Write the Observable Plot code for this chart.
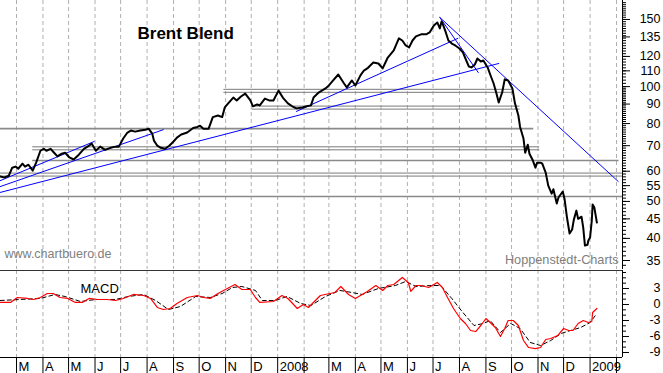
<!DOCTYPE html>
<html><head><meta charset="utf-8">
<script src="https://cdn.jsdelivr.net/npm/d3@7"></script>
<script src="https://cdn.jsdelivr.net/npm/@observablehq/plot@0.6"></script>
<style>
body{margin:0;background:#fff;}
#wrap{position:relative;width:663px;height:373px;overflow:hidden;background:#fff;}
#top,#bot{position:absolute;left:0;}
#top{top:0;} #bot{top:269px;}
</style></head><body><div id="wrap"><div id="top"></div><div id="bot"></div></div>
<script>
// ---------- data ----------
const priceDates = ["2007-02-10","2007-02-15","2007-02-20","2007-02-24","2007-02-28","2007-03-03","2007-03-08","2007-03-11","2007-03-15","2007-03-20",
"2007-03-24","2007-03-29","2007-04-02","2007-04-05","2007-04-10","2007-04-13","2007-04-18","2007-04-23","2007-04-27","2007-05-02",
"2007-05-07","2007-05-13","2007-05-19","2007-05-25","2007-05-28","2007-06-02","2007-06-07","2007-06-13","2007-06-19","2007-06-25",
"2007-06-29","2007-07-04","2007-07-09","2007-07-13","2007-07-18","2007-07-24","2007-07-30","2007-08-03","2007-08-07","2007-08-09",
"2007-08-13","2007-08-17","2007-08-22","2007-08-27","2007-09-01","2007-09-05","2007-09-10","2007-09-17","2007-09-24","2007-09-29",
"2007-10-02","2007-10-06","2007-10-12","2007-10-17","2007-10-23","2007-10-28","2007-10-31","2007-11-04","2007-11-10","2007-11-14",
"2007-11-19","2007-11-24","2007-11-30","2007-12-03","2007-12-08","2007-12-11","2007-12-17","2007-12-22","2007-12-27","2008-01-02",
"2008-01-07","2008-01-13","2008-01-18","2008-01-23","2008-01-30","2008-02-04","2008-02-09","2008-02-12","2008-02-18","2008-02-26",
"2008-03-01","2008-03-06","2008-03-12","2008-03-18","2008-03-22","2008-03-28","2008-04-01","2008-04-07","2008-04-11","2008-04-15",
"2008-04-22","2008-04-28","2008-05-03","2008-05-09","2008-05-16","2008-05-22","2008-05-26","2008-05-30","2008-06-03","2008-06-07",
"2008-06-11","2008-06-17","2008-06-23","2008-06-27","2008-07-02","2008-07-06","2008-07-09","2008-07-11","2008-07-13","2008-07-16",
"2008-07-19","2008-07-23","2008-07-27","2008-08-01","2008-08-05","2008-08-08","2008-08-12","2008-08-15","2008-08-19","2008-08-22",
"2008-08-26","2008-08-29","2008-09-03","2008-09-06","2008-09-10","2008-09-13","2008-09-16","2008-09-20","2008-09-23","2008-09-27",
"2008-10-02","2008-10-05","2008-10-09","2008-10-11","2008-10-15","2008-10-17","2008-10-20","2008-10-22","2008-10-26","2008-10-29",
"2008-10-31","2008-11-04","2008-11-06","2008-11-10","2008-11-13","2008-11-17","2008-11-19","2008-11-23","2008-11-25","2008-11-30",
"2008-12-02","2008-12-05","2008-12-08","2008-12-11","2008-12-13","2008-12-16","2008-12-18","2008-12-22","2008-12-24","2008-12-26",
"2008-12-29","2008-12-30","2009-01-01","2009-01-03","2009-01-04","2009-01-06","2009-01-09"];
const priceValues = [58.1,57.8,58.4,61.3,61.7,60.9,62.8,61.7,62.4,60.2,
63.2,67.9,68.7,67.9,68.7,67.5,65.6,66.7,67.1,65.2,
64.4,66.3,68.7,70.0,70.9,67.9,69.6,68.3,69.1,69.6,
69.6,73.1,75.8,76.7,76.2,76.7,77.1,77.5,75.3,72.2,
70.0,69.1,68.7,70.0,71.8,73.5,74.9,75.8,77.9,78.4,
79.0,77.5,77.5,83.2,84.0,83.2,88.2,90.4,93.6,92.0,
94.2,95.9,92.0,88.8,89.8,89.3,93.0,92.0,92.0,97.6,
93.6,90.4,88.8,87.7,88.2,88.8,89.3,93.6,96.5,98.9,
100.7,103.8,107.6,102.5,99.5,103.8,100.7,107.0,110.2,111.6,
115.7,115.0,111.6,119.2,124.4,133.8,132.1,128.2,126.7,132.1,
135.4,137.1,137.1,138.7,144.7,147.3,142.1,148.2,144.7,138.7,
132.1,129.7,128.2,125.9,122.9,118.5,112.9,112.3,114.3,118.5,
116.4,117.1,112.3,107.6,101.9,96.5,90.9,96.5,104.5,103.8,
98.9,90.4,84.0,78.4,73.1,67.1,70.4,66.7,64.0,61.3,
63.2,63.2,62.8,59.5,55.0,52.4,53.8,49.4,51.2,53.1,
50.9,45.3,41.2,42.2,44.8,47.3,45.0,45.6,42.7,38.3,
38.5,39.5,40.2,44.5,49.1,48.2,44.0];

const macdDates = ["2007-02-10","2007-02-22","2007-03-02","2007-03-14","2007-03-21","2007-03-29","2007-04-06","2007-04-13","2007-04-21","2007-04-30",
"2007-05-09","2007-05-17","2007-05-25","2007-06-04","2007-06-15","2007-06-25","2007-07-04","2007-07-16","2007-07-28","2007-08-05",
"2007-08-13","2007-08-20","2007-08-28","2007-09-05","2007-09-17","2007-09-29","2007-10-06","2007-10-14","2007-10-23","2007-11-03",
"2007-11-12","2007-11-20","2007-11-30","2007-12-06","2007-12-11","2007-12-27","2008-01-06","2008-01-13","2008-01-24","2008-01-31",
"2008-02-06","2008-02-20","2008-03-02","2008-03-08","2008-03-15","2008-03-24","2008-04-01","2008-04-15","2008-04-25","2008-05-03",
"2008-05-09","2008-05-16","2008-05-26","2008-06-02","2008-06-05","2008-06-11","2008-06-17","2008-06-26","2008-07-06","2008-07-12",
"2008-07-18","2008-07-25","2008-08-02","2008-08-08","2008-08-14","2008-08-20","2008-08-26","2008-09-01","2008-09-06","2008-09-12",
"2008-09-18","2008-09-23","2008-09-27","2008-10-03","2008-10-09","2008-10-15","2008-10-21","2008-10-29","2008-11-04","2008-11-10",
"2008-11-16","2008-11-24","2008-12-01","2008-12-07","2008-12-12","2008-12-18","2008-12-24","2008-12-30","2009-01-03","2009-01-04",
"2009-01-09"];
const macdValues = [0.38,0.38,1.31,1.13,0.94,1.31,2.06,2.06,1.31,1.13,
0.38,0.38,1.13,0.94,0.94,0.75,1.13,1.88,1.69,1.13,
-0.56,-0.94,-0.75,0.19,1.31,1.69,1.31,1.13,2.06,3.0,
3.75,2.81,2.81,1.31,0.38,0.56,1.69,1.13,-0.75,0,
-0.56,1.69,2.06,2.25,3.38,1.88,1.13,2.44,3.56,2.63,
3.56,3.75,5.07,4.13,2.44,3.56,3.56,3.19,4.13,3.19,
1.31,-0.75,-2.63,-3.56,-4.88,-5.07,-3.94,-2.63,-3.38,-4.32,
-6.0,-4.5,-3.0,-3.0,-3.94,-6.75,-8.07,-8.26,-8.07,-6.57,
-6.38,-5.82,-4.5,-4.88,-4.88,-3.56,-3.0,-3.38,-3.19,-1.5,
-0.75];

const signalDates = ["2007-02-10","2007-03-05","2007-03-29","2007-04-15","2007-04-27","2007-05-15","2007-06-02","2007-06-25","2007-07-10","2007-07-28",
"2007-08-11","2007-08-26","2007-09-09","2007-09-27","2007-10-14","2007-10-28","2007-11-09","2007-11-20","2007-12-06","2007-12-14",
"2007-12-29","2008-01-12","2008-01-28","2008-02-09","2008-02-26","2008-03-14","2008-03-28","2008-04-09","2008-04-28","2008-05-18",
"2008-05-30","2008-06-11","2008-06-29","2008-07-10","2008-07-23","2008-08-05","2008-08-18","2008-08-29","2008-09-06","2008-09-18",
"2008-09-30","2008-10-11","2008-10-23","2008-11-04","2008-11-16","2008-11-28","2008-12-09","2008-12-21","2009-01-01","2009-01-09"];
const signalValues = [0.75,0.94,1.13,1.88,1.5,0.56,0.94,0.94,1.5,1.88,
0.75,-0.94,-0.38,1.5,1.31,2.06,3.19,3.38,2.63,0.75,
0.75,1.5,0.19,-0.19,1.5,2.63,2.25,1.88,3.0,3.56,
4.32,3.38,3.56,3.56,1.13,-1.5,-3.94,-3.56,-3.0,-5.25,
-3.56,-4.5,-7.13,-7.69,-6.75,-5.44,-4.88,-4.32,-3.38,-1.69];

// trend lines (blue): start/end date and price
const trendStartDates = ["2007-02-10","2007-02-10","2007-02-10","2008-01-23","2008-07-09","2008-07-09"];
const trendStartValues = [56.7,54.7,52.8,86.1,151.8,151.8];
const trendEndDates = ["2007-05-31","2007-08-20","2008-09-16","2008-07-30","2009-02-03","2008-08-23"];
const trendEndValues = [71.8,77.1,115.0,133.8,56.4,108.9];

// horizontal support/resistance levels
const boxLevelValues = [97.5,88.1,68.9,58.8];
const boxLevelStarts = ["2007-10-30","2007-12-02","2007-03-20","2007-02-10"];
const boxLevelEnds = ["2008-10-02","2008-10-11","2008-11-03","2009-02-08"];
const lineLevelValues = [77.6,64.0,51.5];
const lineLevelStarts = ["2007-02-10","2007-03-20","2007-02-10"];
const lineLevelEnds = ["2008-10-27","2009-02-04","2009-02-08"];

// axes
const monthTickDates = ["2007-03-01","2007-04-01","2007-05-01","2007-06-01","2007-07-01","2007-08-01","2007-09-01","2007-10-01","2007-11-01","2007-12-01",
"2008-01-01","2008-02-01","2008-03-01","2008-04-01","2008-05-01","2008-06-01","2008-07-01","2008-08-01","2008-09-01","2008-10-01","2008-11-01","2008-12-01",
"2009-01-01","2009-02-01"];
const monthTickLabels = ["M","A","M","J","J","A","S","O","N","D","2008","","M","A","M","J","J","A","S","O","N","D","2009",""];
const priceTickValues = [35,40,45,50,55,60,70,80,90,100,110,120,135,150];
const macdTickValues = [3,0,-3,-6,-9];

// ---------- build ----------
const parse = s => new Date(s + "T00:00:00Z");
const W = 663, MR = 41, FR = W - MR;
const xDomain = [new Date("2007-02-10T06:00:00Z"), new Date("2009-02-08T00:00:00Z")];
const priceDomain = [33.15, 168.2];
const macdDomain = [-9.94, 6.375];
const font = "'Liberation Sans', Arial, sans-serif";

const price = priceDates.map((d, i) => ({date: parse(d), value: priceValues[i]}));
const macd = macdDates.map((d, i) => ({date: parse(d), value: macdValues[i]}));
const signal = signalDates.map((d, i) => ({date: parse(d), value: signalValues[i]}));
const trend = trendStartDates.flatMap((d, i) => [
  {id: i, date: parse(d), value: trendStartValues[i]},
  {id: i, date: parse(trendEndDates[i]), value: trendEndValues[i]}
]);
const boxes = boxLevelValues.map((v, i) => ({v, a: parse(boxLevelStarts[i]), b: parse(boxLevelEnds[i])}));
const lines = lineLevelValues.map((v, i) => ({v, a: parse(lineLevelStarts[i]), b: parse(lineLevelEnds[i])}));
const months = monthTickDates.map((d, i) => ({date: parse(d), label: monthTickLabels[i]}));

const minorPrice = d3.range(34, 100).concat(d3.range(100, 168, 2));
const minorMacd = d3.range(-9, 7);

const style = {fontFamily: font, fontSize: "12px", background: "transparent", overflow: "visible"};

const topChart = Plot.plot({
  width: W, height: 269, marginLeft: 0, marginRight: MR, marginTop: 0, marginBottom: 0,
  x: {type: "utc", domain: xDomain, axis: null},
  y: {type: "log", domain: priceDomain, axis: null},
  style,
  marks: [
    Plot.ruleX(months, {x: "date", stroke: "#b0b0b0", strokeDasharray: "4,3"}),
    Plot.ruleY(boxes, {y: "v", x1: "a", x2: "b", dy: -1.5, stroke: "#7a7a7a"}),
    Plot.ruleY(boxes, {y: "v", x1: "a", x2: "b", dy: 1.5, stroke: "#7a7a7a"}),
    Plot.ruleY(lines, {y: "v", x1: "a", x2: "b", stroke: "#8a8a8a", strokeWidth: 1.6}),
    Plot.line(trend, {x: "date", y: "value", z: "id", stroke: "#0000ff", strokeWidth: 1}),
    Plot.line(price, {x: "date", y: "value", stroke: "#000", strokeWidth: 2}),
    Plot.ruleX([xDomain[1]], {stroke: "#000"}),
    Plot.ruleY(minorPrice, {y: d => d, insetLeft: FR, insetRight: -4, stroke: "#000"}),
    Plot.ruleY(priceTickValues, {y: d => d, insetLeft: FR, insetRight: -8, stroke: "#000"}),
    Plot.text(priceTickValues, {y: d => d, text: d => String(d), frameAnchor: "right", textAnchor: "end", dx: 38, lineAnchor: "middle", fontSize: 12.5, fill: "#000"}),
    Plot.text(["Brent Blend"], {text: d => d, frameAnchor: "top-left", dx: 137, dy: 38, lineAnchor: "bottom", textAnchor: "start", fontSize: 17, fontWeight: "bold", fill: "#000"}),
    Plot.text(["www.chartbuero.de"], {text: d => d, frameAnchor: "top-left", dx: 4, dy: 257, lineAnchor: "bottom", textAnchor: "start", fontSize: 12.5, fill: "#808080"}),
    Plot.text(["Hoppenstedt-Charts"], {text: d => d, frameAnchor: "top-right", dx: -4, dy: 263, lineAnchor: "bottom", textAnchor: "end", fontSize: 12.7, fill: "#808080"})
  ]
});
document.getElementById("top").appendChild(topChart);

const botChart = Plot.plot({
  width: W, height: 104, marginLeft: 0, marginRight: MR, marginTop: 1, marginBottom: 16,
  x: {type: "utc", domain: xDomain, axis: null},
  y: {domain: macdDomain, axis: null},
  style,
  marks: [
    Plot.ruleX(months, {x: "date", stroke: "#b0b0b0", strokeDasharray: "4,3"}),
    Plot.ruleX(months, {x: "date", stroke: "#000", insetTop: 87, insetBottom: -16}),
    Plot.ruleY([macdDomain[1]], {stroke: "#333"}),
    Plot.ruleY([macdDomain[0]], {stroke: "#000"}),
    Plot.ruleX([xDomain[1]], {stroke: "#000"}),
    Plot.line(signal, {x: "date", y: "value", stroke: "#000", strokeWidth: 1, strokeDasharray: "4,3"}),
    Plot.line(macd, {x: "date", y: "value", stroke: "#ff0000", strokeWidth: 1.2}),
    Plot.ruleY(minorMacd, {y: d => d, insetLeft: FR, insetRight: -4, stroke: "#000"}),
    Plot.ruleY(macdTickValues, {y: d => d, insetLeft: FR, insetRight: -7, stroke: "#000"}),
    Plot.text(macdTickValues, {y: d => d, text: d => String(d), frameAnchor: "right", textAnchor: "end", dx: 38, lineAnchor: "middle", fontSize: 12.5, fill: "#000"}),
    Plot.text(months, {x: "date", text: "label", frameAnchor: "bottom", dy: 9.5, dx: 2, textAnchor: "start", lineAnchor: "middle", fontSize: 13, fill: "#000"}),
    Plot.text(["MACD"], {text: d => d, frameAnchor: "top-left", dx: 80, dy: 22, lineAnchor: "bottom", textAnchor: "start", fontSize: 13, fill: "#000"})
  ]
});
document.getElementById("bot").appendChild(botChart);
</script>
</body></html>
